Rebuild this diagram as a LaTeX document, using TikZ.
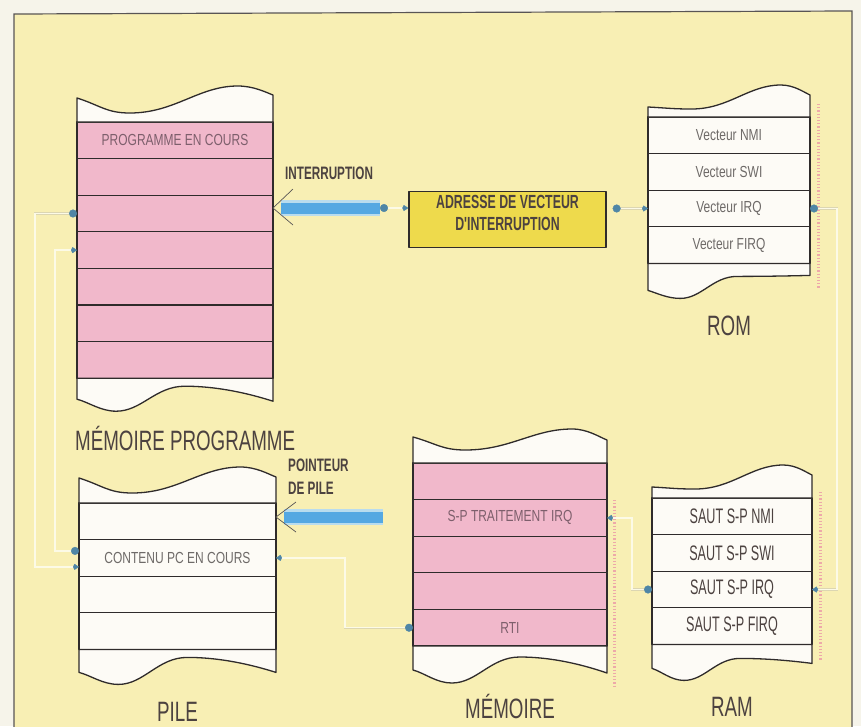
\documentclass[tikz,border=0pt]{standalone}
\usepackage{fontspec}
\setmainfont{Liberation Sans}
\newfontfamily\labelfont{Liberation Sans}[FakeStretch=0.67]
\newfontfamily\rowfont{Liberation Sans}[FakeStretch=0.75]
\newfontfamily\ramfont{Liberation Sans}[FakeStretch=0.6]
\newfontfamily\tagfont{Liberation Sans}[FakeStretch=0.65]
\usetikzlibrary{arrows.meta,positioning,calc}
\definecolor{irqPaper}{HTML}{F6F4EA}
\definecolor{irqYellow}{HTML}{F8EFB4}
\definecolor{irqBox}{HTML}{EEDA4C}
\definecolor{irqPink}{HTML}{F1B8CB}
\definecolor{irqWhite}{HTML}{FDFBF6}
\definecolor{irqInk}{HTML}{2F2B2B}
\definecolor{irqText}{HTML}{4C4240}
\definecolor{irqMauve}{HTML}{7D5F6C}
\definecolor{irqGrey}{HTML}{6E6A68}
\definecolor{irqBlue}{HTML}{55A8E2}
\definecolor{irqHalo}{HTML}{B9DCEE}
\definecolor{irqDot}{HTML}{4F86A6}
\definecolor{irqWire}{HTML}{FCFAE6}
\definecolor{irqWireEdge}{HTML}{DCD6B2}
\definecolor{irqShade}{HTML}{EDA9A9}
% torn edge above a block: #1 left x, #2 first row line, #3 width; heights: #4 left, #5 dip, #6 peak, #7 right
\newcommand{\memtop}[7]{%
  \draw[memline, fill=irqWhite] (#1,#2) -- (#1,#2-#4)
    .. controls ({#1+0.12*#3},{#2-0.5*(#4+#5)}) and ({#1+0.15*#3},{#2-#5}) .. ({#1+0.27*#3},{#2-#5})
    .. controls ({#1+0.5*#3},{#2-#5}) and ({#1+0.62*#3},{#2-#6}) .. ({#1+0.82*#3},{#2-#6})
    .. controls ({#1+0.9*#3},{#2-#6}) and ({#1+0.96*#3},{#2-#7-3}) .. ({#1+#3},{#2-#7})
    -- ({#1+#3},#2) -- cycle;}
% torn edge below a block: #1 left x, #2 last row line, #3 width; depths: #4 left, #5 dip, #6 peak, #7 right
\newcommand{\membot}[7]{%
  \draw[memline, fill=irqWhite] (#1,#2) -- (#1,#2+#4)
    .. controls ({#1+0.06*#3},{#2+#4+3}) and ({#1+0.12*#3},{#2+#5}) .. ({#1+0.2*#3},{#2+#5})
    .. controls ({#1+0.33*#3},{#2+#5}) and ({#1+0.4*#3},{#2+#6}) .. ({#1+0.55*#3},{#2+#6})
    .. controls ({#1+0.72*#3},{#2+#6}) and ({#1+0.88*#3},{#2+0.5*(#6+#7)}) .. ({#1+#3},{#2+#7})
    -- ({#1+#3},#2) -- cycle;}
\begin{document}
\begin{tikzpicture}[x=1pt, y=-1pt, node distance=0pt]
\tikzset{
  memline/.style={draw=irqInk, line width=1.3pt, line join=round},
  memrow/.style={memline, minimum height=36.6pt, outer sep=0pt, inner sep=0pt,
                 font=\rowfont\fontsize{16pt}{16pt}\selectfont},
  pmrow/.style={memrow, fill=irqPink, minimum width=196pt, text=irqMauve},
  pilerow/.style={memrow, fill=irqWhite, minimum width=197pt, text=irqGrey},
  mrow/.style={memrow, fill=irqPink, minimum width=194pt, text=irqMauve},
  romrow/.style={memrow, fill=irqWhite, minimum width=162pt, text=irqGrey},
  ramrow/.style={memrow, fill=irqWhite, minimum width=160pt, text=irqText,
                 font=\ramfont\fontsize{21pt}{21pt}\selectfont},
  blocklabel/.style={font=\labelfont\fontsize{28pt}{28pt}\selectfont, text=irqText,
                     text height=20pt, text depth=0pt, inner sep=0pt},
  flowtag/.style={font=\tagfont\bfseries\fontsize{18pt}{23pt}\selectfont, text=irqText,
                  align=left, inner sep=0pt},
  vecbox/.style={memline, fill=irqBox, minimum width=197pt, minimum height=55pt, align=center,
                 text depth=14pt, font=\tagfont\bfseries\fontsize{19pt}{22pt}\selectfont, text=irqText},
  wire/.style={draw=irqWireEdge, line width=0.4pt, double=irqWire, double distance=1.4pt,
               {Circle[length=8pt, color=irqDot]}-{Kite[length=6pt, width=6pt, color=irqDot]}},
  bigshaft/.style={draw=irqBlue, line width=11pt, preaction={draw=irqHalo, line width=16pt}},
  headbarb/.style={draw=irqInk!80, line width=0.7pt},
  screen/.style={draw=irqShade, line width=3pt, dash pattern=on 1.2pt off 2pt}
}
\useasboundingbox (0,0) rectangle (861,726);
\fill[irqPaper] (0,0) rectangle (861,726);
\filldraw[fill=irqYellow, draw=irqInk!80, line width=1.2pt] (14,727) -- (14,14) -- (852,11) -- (852,727);

% Memoire programme
\node[pmrow] (pm1) at (175,140.3) {PROGRAMME EN COURS};
\node[pmrow, below=of pm1] (pm2) {};
\node[pmrow, below=of pm2] (pm3) {};
\node[pmrow, below=of pm3] (pm4) {};
\node[pmrow, below=of pm4] (pm5) {};
\node[pmrow, below=of pm5] (pm6) {};
\node[pmrow, below=of pm6] (pm7) {};
\memtop{77}{122}{196}{24}{9}{36}{27}
\membot{77}{378.2}{196}{21}{33}{8}{23}

% ROM
\node[romrow] (rom1) at (729,135.3) {Vecteur NMI};
\node[romrow, below=of rom1] (rom2) {Vecteur SWI};
\node[romrow, below=of rom2] (rom3) {Vecteur IRQ};
\node[romrow, below=of rom3] (rom4) {Vecteur FIRQ};
\memtop{648}{117}{162}{10}{8}{32}{22}
\membot{648}{263.4}{162}{27}{35}{13}{12}
\draw[screen] (818,104) -- (818,288);

% Pile
\node[pilerow] (pile1) at (177.5,521.3) {};
\node[pilerow, below=of pile1] (pile2) {CONTENU PC EN COURS};
\node[pilerow, below=of pile2] (pile3) {};
\node[pilerow, below=of pile3] (pile4) {};
\memtop{79}{503}{197}{25}{10}{36}{26}
\membot{79}{649.4}{197}{23}{35}{8}{23}

% Memoire
\node[mrow] (m1) at (510,481.3) {};
\node[mrow, below=of m1] (m2) {S-P TRAITEMENT IRQ};
\node[mrow, below=of m2] (m3) {};
\node[mrow, below=of m3] (m4) {};
\node[mrow, below=of m4] (m5) {RTI};
\memtop{413}{463}{194}{26}{13}{34}{23}
\membot{413}{646}{194}{24}{37}{11}{27}
\draw[screen] (614,500) -- (614,686);

% RAM
\node[ramrow] (ram1) at (732,516.3) {SAUT S-P NMI};
\node[ramrow, below=of ram1] (ram2) {SAUT S-P SWI};
\node[ramrow, below=of ram2] (ram3) {SAUT S-P IRQ};
\node[ramrow, below=of ram3] (ram4) {SAUT S-P FIRQ};
\memtop{652}{498}{160}{11}{9}{33}{23}
\membot{652}{644.4}{160}{24}{36}{14}{19}
\draw[screen] (820,492) -- (820,660);

% Labels
\node[blocklabel, below=52pt of pm7.south west, anchor=north west, xshift=-2pt] (pmLabel) {MÉMOIRE PROGRAMME};
\node[blocklabel, below=52pt of rom4] (romLabel) {ROM};
\node[blocklabel, below=52pt of pile4] (pileLabel) {PILE};
\node[blocklabel, below=52pt of m5] (mLabel) {MÉMOIRE};
\node[blocklabel, below=52pt of ram4] (ramLabel) {RAM};

\node[vecbox] (adr) at (507.5,219.5) {ADRESSE DE VECTEUR\\D'INTERRUPTION};
\node[flowtag, anchor=west] (intrTag) at (285,173) {INTERRUPTION};
\node[flowtag, anchor=west] (spTag) at (288,476.5) {POINTEUR\\DE PILE};

% Interruption
\coordinate (intr) at (380,208);
\coordinate (intrTip) at (intr -| pm3.east);
\draw[bigshaft] (intr) -- ($(intrTip)+(8,0)$);
\draw[headbarb] ($(intrTip)+(20,-19)$) -- (intrTip) -- ($(intrTip)+(20,17)$);
\draw[wire] (intr) -- (intr -| adr.west);
\draw[wire, shorten <=6pt] (adr.east |- rom3) -- (rom3.west);

% Pointeur de pile
\coordinate (sp) at (383,517);
\coordinate (spTip) at (sp -| pile1.east);
\draw[bigshaft] (sp) -- ($(spTip)+(8,0)$);
\draw[headbarb] ($(spTip)+(20,-15)$) -- (spTip) -- ($(spTip)+(20,15)$);

% Liaisons
\coordinate (railR) at (837,0);
\coordinate (railM) at (632,0);
\coordinate (railP) at (345,0);
\coordinate (railO) at (35,0);
\coordinate (railI) at (55,0);
\coordinate (pileIn) at ($(pile2.west)+(0,9)$);
\coordinate (pileOut) at ($(pile2.west)+(0,-7)$);
\draw[wire] (rom3.east) -- (rom3.east -| railR) |- (ram3.east);
\draw[wire] (ram3.west) -- (ram3.west -| railM) |- (m2.east);
\draw[wire] (m5.west) -- (m5.west -| railP) |- (pile2.east);
\draw[wire] (pm3.west) -- (pm3.west -| railO) |- (pileIn);
\draw[wire] (pileOut) -- (pileOut -| railI) |- (pm4.west);
\end{tikzpicture}
\end{document}
